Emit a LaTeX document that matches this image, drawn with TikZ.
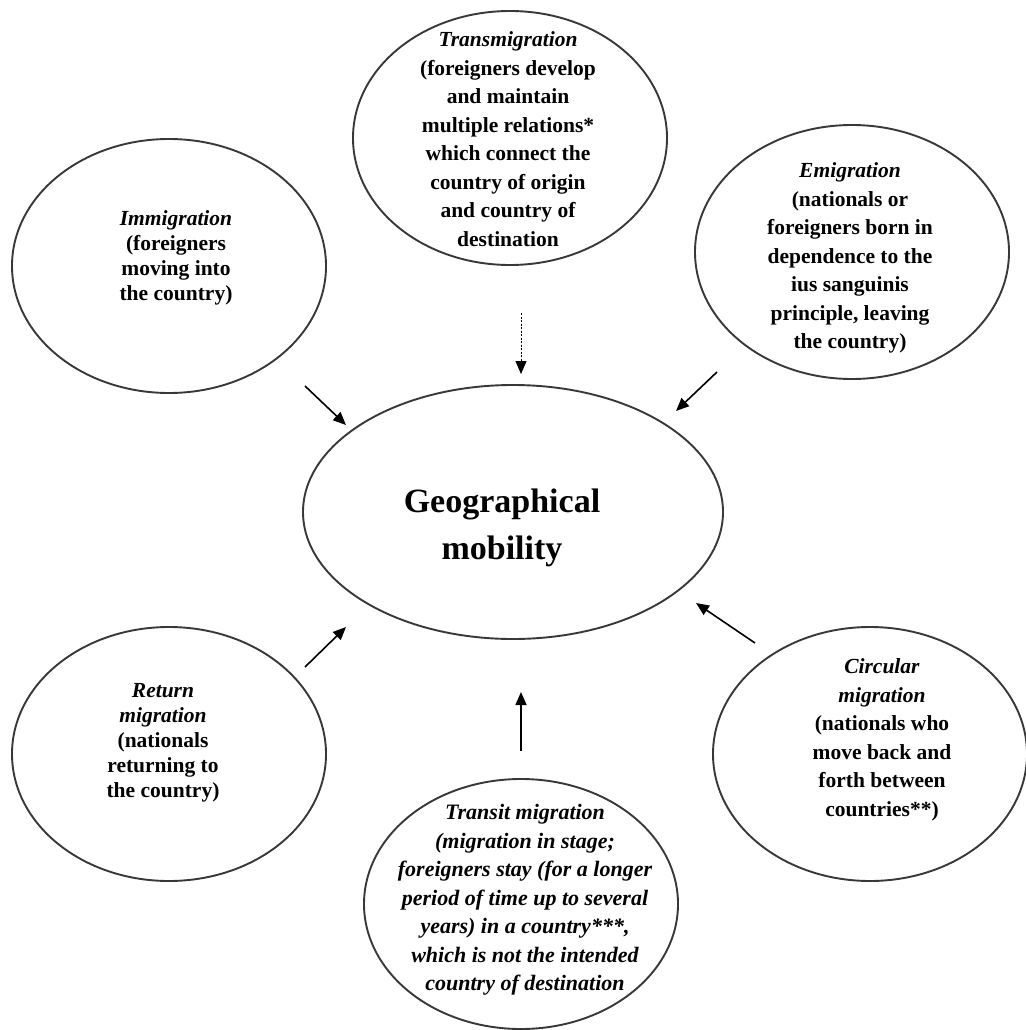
\documentclass[tikz,border=0pt]{standalone}
\usepackage{fontspec}
\setmainfont{Liberation Serif}
\usetikzlibrary{shapes.geometric,arrows.meta}
\begin{document}
\begin{tikzpicture}[x=1pt,y=-1pt,
  bubble/.style={draw=black!78, line width=1.9pt, ellipse, minimum width=314pt, minimum height=254pt, inner sep=0pt},
  txtA/.style={align=center, font=\fontsize{21.5}{25}\selectfont\bfseries},
  txtB/.style={align=center, font=\fontsize{21.5}{28.5}\selectfont\bfseries},
  txtC/.style={align=center, font=\fontsize{22}{28.5}\selectfont\bfseries\itshape},
  arr/.style={line width=1.6pt, -{Triangle[length=13pt,width=11pt]}},
  darr/.style={line width=0.9pt, dash pattern=on 2pt off 1.5pt, -{Triangle[length=13pt,width=11pt]}}]
\useasboundingbox (0,0) rectangle (1025,1030);
\fill[white] (0,0) rectangle (1025,1030);

% bubbles
\node[bubble] (trE) at (510,138) {};
\node[txtB] (trT) at (508,139) {\textit{Transmigration}\\(foreigners develop\\and maintain\\multiple relations*\\which connect the\\country of origin\\and country of\\destination};

\node[bubble] (imE) at (169,266) {};
\node[txtA] (imT) at (176,258) {\textit{Immigration}\\(foreigners\\moving into\\the country)};

\node[bubble] (emE) at (852,252) {};
\node[txtB] (emT) at (850,258) {\textit{Emigration}\\(nationals or\\foreigners born in\\dependence to the\\ius sanguinis\\principle, leaving\\the country)};

\node[bubble, minimum width=420pt] (geo) at (513,512) {};
\node[align=center, font=\fontsize{34}{47}\selectfont\bfseries] (geoT) at (502,528) {Geographical\\mobility};

\node[bubble] (reE) at (169,754) {};
\node[txtA] (reT) at (163,743) {\textit{Return}\\\textit{migration}\\(nationals\\returning to\\the country)};

\node[bubble] (ciE) at (870,754) {};
\node[txtB] (ciT) at (882,740) {\textit{Circular}\\\textit{migration}\\(nationals who\\move back and\\forth between\\countries**)};

\node[bubble, minimum height=250pt] (tsE) at (521,904) {};
\node[txtC] (tsT) at (525,900) {Transit migration\\(migration in stage;\\foreigners stay (for a longer\\period of time up to several\\years) in a country***,\\which is not the intended\\country of destination};

% arrow end points
\coordinate (imS) at (305,386); \coordinate (imG) at (346,425);
\coordinate (trS) at (521,313); \coordinate (trG) at (521,374);
\coordinate (emS) at (717,372); \coordinate (emG) at (676,411);
\coordinate (reS) at (305,667); \coordinate (reG) at (346,627);
\coordinate (tsS) at (521,751); \coordinate (tsG) at (521,692);
\coordinate (ciS) at (755,643); \coordinate (ciG) at (696,603);

\draw[arr] (imS) -- (imG);
\draw[darr] (trS) -- (trG);
\draw[arr] (emS) -- (emG);
\draw[arr] (reS) -- (reG);
\draw[arr] (tsS) -- (tsG);
\draw[arr] (ciS) -- (ciG);
\end{tikzpicture}
\end{document}
